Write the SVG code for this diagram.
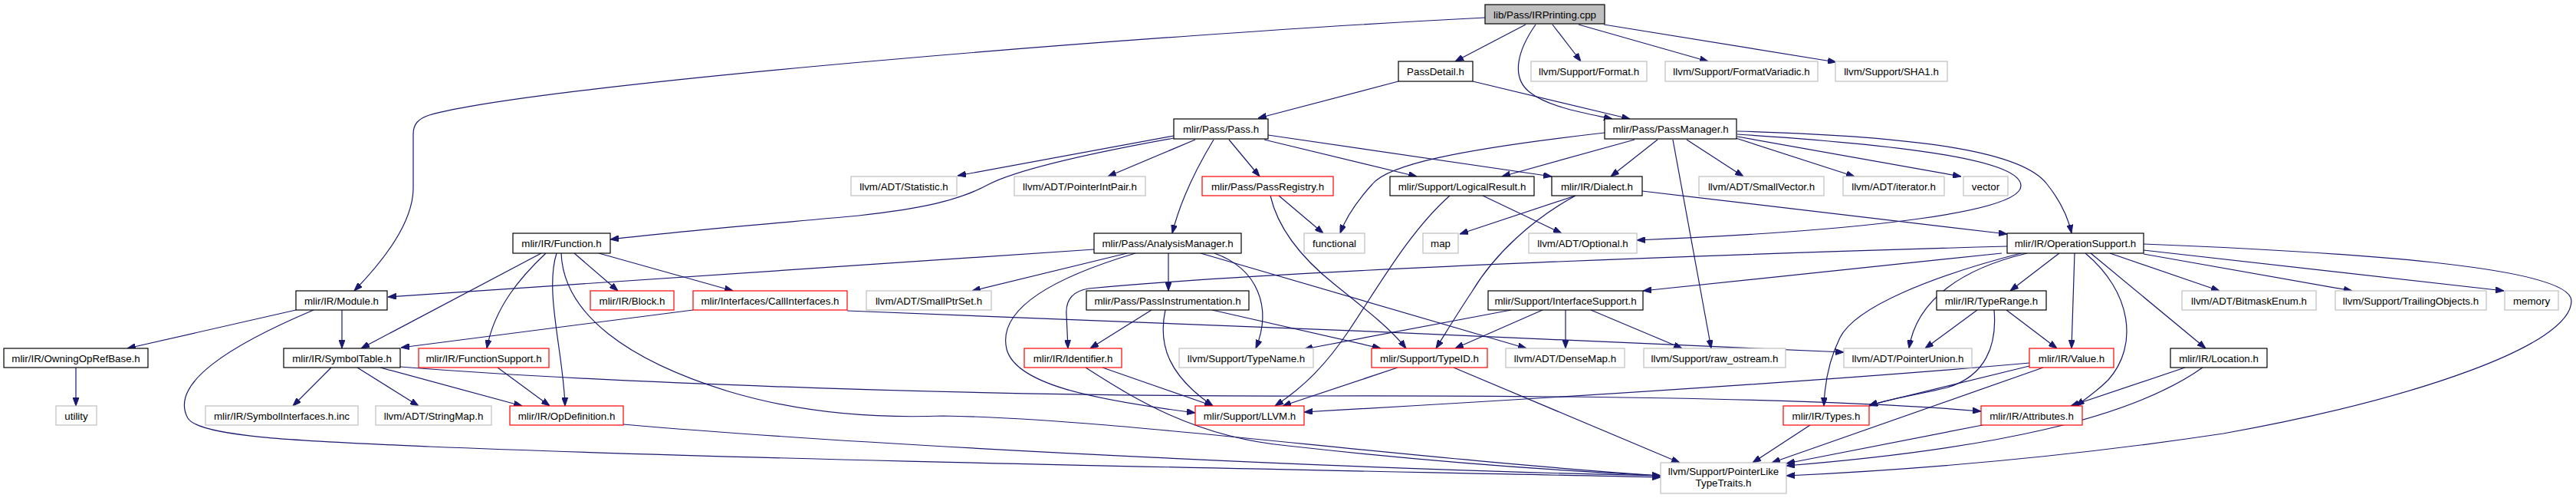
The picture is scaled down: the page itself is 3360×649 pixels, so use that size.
<svg xmlns="http://www.w3.org/2000/svg" width="3360" height="649" viewBox="0 0 3360 649">
<style>
text{font-family:"Liberation Sans",Arial,Helvetica,sans-serif;font-size:13.33px;text-anchor:middle;fill:#000}
rect{stroke-width:1.2}
.m{fill:#bfbfbf;stroke:#000}
.n{fill:#fff;stroke:#000}
.x{fill:#fff;stroke:#bfbfbf}
.r{fill:#fff;stroke:#ff0000}
#edges path{fill:none;stroke:#191970;stroke-width:1.2;marker-end:url(#a)}
</style>
<defs>
<marker id="a" viewBox="0 0 11 8" refX="11" refY="4" markerWidth="11" markerHeight="8" markerUnits="userSpaceOnUse" orient="auto">
<path d="M0,0 L11,4 L0,8 z" fill="#191970" stroke="#191970"/>
</marker>
</defs>
<rect width="3360" height="649" fill="#fff"/>
<g id="edges">
<path d="M1937,23 C1500,45 700,110 560,150 C545,155 539,162 539,175 L539,245 C539,290 500,340 462,379"/>
<path d="M1990,32 L1898,80"/>
<path d="M2003,32 C1980,65 1970,100 1995,120 C2020,140 2070,148 2103,155"/>
<path d="M2025,32 L2062,80"/>
<path d="M2059,32 L2228,80"/>
<path d="M2092,32 L2395,81"/>
<path d="M1824,106 L1641,154"/>
<path d="M1921,106 L2126,155"/>
<path d="M1531,177 L1249,229"/>
<path d="M1531,180 C1420,200 1330,220 1290,240 C1250,262 1200,272 1120,281 C1000,292 900,300 796,312"/>
<path d="M1559,182 L1445,230"/>
<path d="M1583,182 C1560,220 1540,260 1529,304"/>
<path d="M1603,182 L1643,230"/>
<path d="M1654,176 L2024,230"/>
<path d="M1649,182 L1848,230"/>
<path d="M2093,173 C1900,195 1810,215 1790,240 C1770,262 1755,285 1748,304"/>
<path d="M2132,182 L1959,230"/>
<path d="M2162,182 L2101,230"/>
<path d="M2182,182 L2232,454"/>
<path d="M2200,182 L2274,230"/>
<path d="M2264,180 L2419,230"/>
<path d="M2266,178 L2558,230"/>
<path d="M2266,175 C2500,190 2636,210 2636,242 C2636,275 2450,300 2135,313"/>
<path d="M2266,171 C2520,178 2640,200 2670,240 C2690,265 2698,285 2702,304"/>
<path d="M1668,255 L1726,304"/>
<path d="M1657,255 C1665,290 1690,330 1740,370 C1790,410 1815,430 1834,454"/>
<path d="M1934,255 L2037,304"/>
<path d="M1891,255 C1840,300 1800,370 1760,430 C1730,475 1700,505 1663,529"/>
<path d="M2055,255 L1904,305"/>
<path d="M2055,255 C2000,285 1950,330 1920,380 C1900,410 1885,435 1873,454"/>
<path d="M2142,249 L2618,305"/>
<path d="M1427,325 L506,387"/>
<path d="M1470,330 L1268,379"/>
<path d="M1481,330 C1380,360 1300,400 1313,455 C1325,500 1420,520 1559,538"/>
<path d="M1524,330 L1524,379"/>
<path d="M1584,330 C1640,350 1660,400 1638,454"/>
<path d="M1566,330 L1991,454"/>
<path d="M1502,404 L1422,454"/>
<path d="M1520,404 C1510,450 1525,490 1582,529"/>
<path d="M1581,404 L1801,454"/>
<path d="M706,330 L471,454"/>
<path d="M712,330 C680,360 645,400 635,454"/>
<path d="M726,330 C710,380 735,460 737,529"/>
<path d="M732,330 C735,410 820,470 950,510 C1050,540 1150,545 1230,542 C1450,545 1800,595 2166,620"/>
<path d="M749,330 L806,379"/>
<path d="M781,330 L956,379"/>
<path d="M386,404 L166,454"/>
<path d="M446,404 L446,454"/>
<path d="M409,404 C300,450 220,500 245,545 C260,570 400,575 560,582 C1000,600 1700,612 2166,622"/>
<path d="M99,479 L99,529"/>
<path d="M432,479 L382,529"/>
<path d="M466,479 L546,529"/>
<path d="M496,479 L681,529"/>
<path d="M522,478 C800,500 1300,517 1700,516 C2100,515 2400,520 2584,536"/>
<path d="M904,404 L523,453"/>
<path d="M1105,405 C1500,420 2000,440 2405,459"/>
<path d="M649,479 L717,529"/>
<path d="M813,553 C1100,578 1700,610 2166,620"/>
<path d="M1438,479 L1582,529"/>
<path d="M1416,479 C1480,520 1560,570 1680,581 C1850,600 2000,612 2166,620"/>
<path d="M1823,479 L1673,529"/>
<path d="M1896,479 L2191,603"/>
<path d="M1971,404 L1701,455"/>
<path d="M2012,404 L1898,454"/>
<path d="M2042,404 L2042,454"/>
<path d="M2075,404 L2194,454"/>
<path d="M2618,321 C2300,330 1700,350 1420,376 C1395,380 1390,395 1391,410 L1393,454"/>
<path d="M2611,330 L2143,379"/>
<path d="M2636,330 C2520,360 2420,400 2400,440 C2385,470 2380,500 2379,529"/>
<path d="M2644,330 C2560,350 2500,390 2490,454"/>
<path d="M2686,330 L2622,379"/>
<path d="M2706,330 L2702,454"/>
<path d="M2720,330 C2780,380 2790,450 2750,495 C2735,510 2720,520 2708,529"/>
<path d="M2727,330 L2877,454"/>
<path d="M2752,330 L2895,379"/>
<path d="M2796,331 L3068,379"/>
<path d="M2796,326 L3266,379"/>
<path d="M2796,318 C3100,330 3354,350 3354,392 C3354,450 3150,520 2900,565 C2700,595 2500,612 2330,620"/>
<path d="M2579,404 L2511,454"/>
<path d="M2617,404 L2683,454"/>
<path d="M2601,404 C2605,450 2590,490 2540,505 C2500,515 2460,520 2438,529"/>
<path d="M2647,477 L2438,528"/>
<path d="M2647,473 C2400,495 2000,520 1701,537"/>
<path d="M2665,479 L2311,603"/>
<path d="M2361,554 L2286,603"/>
<path d="M2586,554 L2330,604"/>
<path d="M2850,479 L2701,529"/>
<path d="M2873,479 C2780,545 2600,585 2330,607"/>
</g>
<g id="n1"><rect class="m" x="1937" y="6" width="156" height="25"/><text x="2015" y="23.5">lib/Pass/IRPrinting.cpp</text></g>
<g id="n2"><rect class="n" x="1824" y="80" width="97" height="26"/><text x="1872.5" y="97.5">PassDetail.h</text></g>
<g id="n3"><rect class="x" x="1997" y="80" width="151" height="26"/><text x="2072.5" y="97.5">llvm/Support/Format.h</text></g>
<g id="n4"><rect class="x" x="2172" y="80" width="199" height="26"/><text x="2271.5" y="97.5">llvm/Support/FormatVariadic.h</text></g>
<g id="n5"><rect class="x" x="2394" y="80" width="146" height="26"/><text x="2467" y="97.5">llvm/Support/SHA1.h</text></g>
<g id="n6"><rect class="n" x="1531" y="155" width="123" height="26"/><text x="1592.5" y="172.5">mlir/Pass/Pass.h</text></g>
<g id="n7"><rect class="n" x="2093" y="155" width="172" height="26"/><text x="2179" y="172.5">mlir/Pass/PassManager.h</text></g>
<g id="n8"><rect class="x" x="1110" y="230" width="138" height="25"/><text x="1179" y="247.5">llvm/ADT/Statistic.h</text></g>
<g id="n9"><rect class="x" x="1323" y="230" width="171" height="25"/><text x="1408.5" y="247.5">llvm/ADT/PointerIntPair.h</text></g>
<g id="n10"><rect class="r" x="1568" y="230" width="171" height="25"/><text x="1653.5" y="247.5">mlir/Pass/PassRegistry.h</text></g>
<g id="n11"><rect class="n" x="1813" y="230" width="188" height="25"/><text x="1907" y="247.5">mlir/Support/LogicalResult.h</text></g>
<g id="n12"><rect class="n" x="2024" y="230" width="118" height="25"/><text x="2083" y="247.5">mlir/IR/Dialect.h</text></g>
<g id="n13"><rect class="x" x="2216" y="230" width="163" height="25"/><text x="2297.5" y="247.5">llvm/ADT/SmallVector.h</text></g>
<g id="n14"><rect class="x" x="2404" y="230" width="132" height="25"/><text x="2470" y="247.5">llvm/ADT/iterator.h</text></g>
<g id="n15"><rect class="x" x="2561" y="230" width="58" height="25"/><text x="2590" y="247.5">vector</text></g>
<g id="n16"><rect class="n" x="669" y="304" width="127" height="26"/><text x="732.5" y="321.5">mlir/IR/Function.h</text></g>
<g id="n17"><rect class="n" x="1427" y="304" width="192" height="26"/><text x="1523" y="321.5">mlir/Pass/AnalysisManager.h</text></g>
<g id="n18"><rect class="x" x="1701" y="304" width="79" height="26"/><text x="1740.5" y="321.5">functional</text></g>
<g id="n19"><rect class="x" x="1856" y="304" width="46" height="26"/><text x="1879" y="321.5">map</text></g>
<g id="n20"><rect class="x" x="1994" y="304" width="141" height="26"/><text x="2064.5" y="321.5">llvm/ADT/Optional.h</text></g>
<g id="n21"><rect class="n" x="2618" y="304" width="178" height="26"/><text x="2707" y="321.5">mlir/IR/OperationSupport.h</text></g>
<g id="n22"><rect class="n" x="386" y="379" width="119" height="25"/><text x="445.5" y="396.5">mlir/IR/Module.h</text></g>
<g id="n23"><rect class="r" x="770" y="379" width="109" height="25"/><text x="824.5" y="396.5">mlir/IR/Block.h</text></g>
<g id="n24"><rect class="r" x="904" y="379" width="201" height="25"/><text x="1004.5" y="396.5">mlir/Interfaces/CallInterfaces.h</text></g>
<g id="n25"><rect class="x" x="1130" y="379" width="163" height="25"/><text x="1211.5" y="396.5">llvm/ADT/SmallPtrSet.h</text></g>
<g id="n26"><rect class="n" x="1417" y="379" width="212" height="25"/><text x="1523" y="396.5">mlir/Pass/PassInstrumentation.h</text></g>
<g id="n27"><rect class="n" x="1941" y="379" width="202" height="25"/><text x="2042" y="396.5">mlir/Support/InterfaceSupport.h</text></g>
<g id="n28"><rect class="n" x="2526" y="379" width="143" height="25"/><text x="2597.5" y="396.5">mlir/IR/TypeRange.h</text></g>
<g id="n29"><rect class="x" x="2846" y="379" width="175" height="25"/><text x="2933.5" y="396.5">llvm/ADT/BitmaskEnum.h</text></g>
<g id="n30"><rect class="x" x="3046" y="379" width="197" height="25"/><text x="3144.5" y="396.5">llvm/Support/TrailingObjects.h</text></g>
<g id="n31"><rect class="x" x="3267" y="379" width="70" height="25"/><text x="3302" y="396.5">memory</text></g>
<g id="n32"><rect class="n" x="5" y="454" width="188" height="25"/><text x="99" y="471.5">mlir/IR/OwningOpRefBase.h</text></g>
<g id="n33"><rect class="n" x="370" y="454" width="152" height="25"/><text x="446" y="471.5">mlir/IR/SymbolTable.h</text></g>
<g id="n34"><rect class="r" x="546" y="454" width="170" height="25"/><text x="631" y="471.5">mlir/IR/FunctionSupport.h</text></g>
<g id="n35"><rect class="r" x="1336" y="454" width="127" height="25"/><text x="1399.5" y="471.5">mlir/IR/Identifier.h</text></g>
<g id="n36"><rect class="x" x="1538" y="454" width="175" height="25"/><text x="1625.5" y="471.5">llvm/Support/TypeName.h</text></g>
<g id="n37"><rect class="r" x="1789" y="454" width="151" height="25"/><text x="1864.5" y="471.5">mlir/Support/TypeID.h</text></g>
<g id="n38"><rect class="x" x="1964" y="454" width="155" height="25"/><text x="2041.5" y="471.5">llvm/ADT/DenseMap.h</text></g>
<g id="n39"><rect class="x" x="2144" y="454" width="185" height="25"/><text x="2236.5" y="471.5">llvm/Support/raw_ostream.h</text></g>
<g id="n40"><rect class="x" x="2405" y="454" width="167" height="25"/><text x="2488.5" y="471.5">llvm/ADT/PointerUnion.h</text></g>
<g id="n41"><rect class="r" x="2647" y="454" width="110" height="25"/><text x="2702" y="471.5">mlir/IR/Value.h</text></g>
<g id="n42"><rect class="n" x="2831" y="454" width="126" height="25"/><text x="2894" y="471.5">mlir/IR/Location.h</text></g>
<g id="n43"><rect class="x" x="73" y="529" width="53" height="25"/><text x="99.5" y="546.5">utility</text></g>
<g id="n44"><rect class="x" x="268" y="529" width="199" height="25"/><text x="367.5" y="546.5">mlir/IR/SymbolInterfaces.h.inc</text></g>
<g id="n45"><rect class="x" x="490" y="529" width="151" height="25"/><text x="565.5" y="546.5">llvm/ADT/StringMap.h</text></g>
<g id="n46"><rect class="r" x="665" y="529" width="148" height="25"/><text x="739" y="546.5">mlir/IR/OpDefinition.h</text></g>
<g id="n47"><rect class="r" x="1559" y="529" width="142" height="25"/><text x="1630" y="546.5">mlir/Support/LLVM.h</text></g>
<g id="n48"><rect class="r" x="2326" y="529" width="112" height="25"/><text x="2382" y="546.5">mlir/IR/Types.h</text></g>
<g id="n49"><rect class="r" x="2584" y="529" width="132" height="25"/><text x="2650" y="546.5">mlir/IR/Attributes.h</text></g>
<g id="n50"><rect class="x" x="2166" y="603" width="164" height="40"/><text x="2248" y="619">llvm/Support/PointerLike</text><text x="2248" y="634">TypeTraits.h</text></g>
</svg>
